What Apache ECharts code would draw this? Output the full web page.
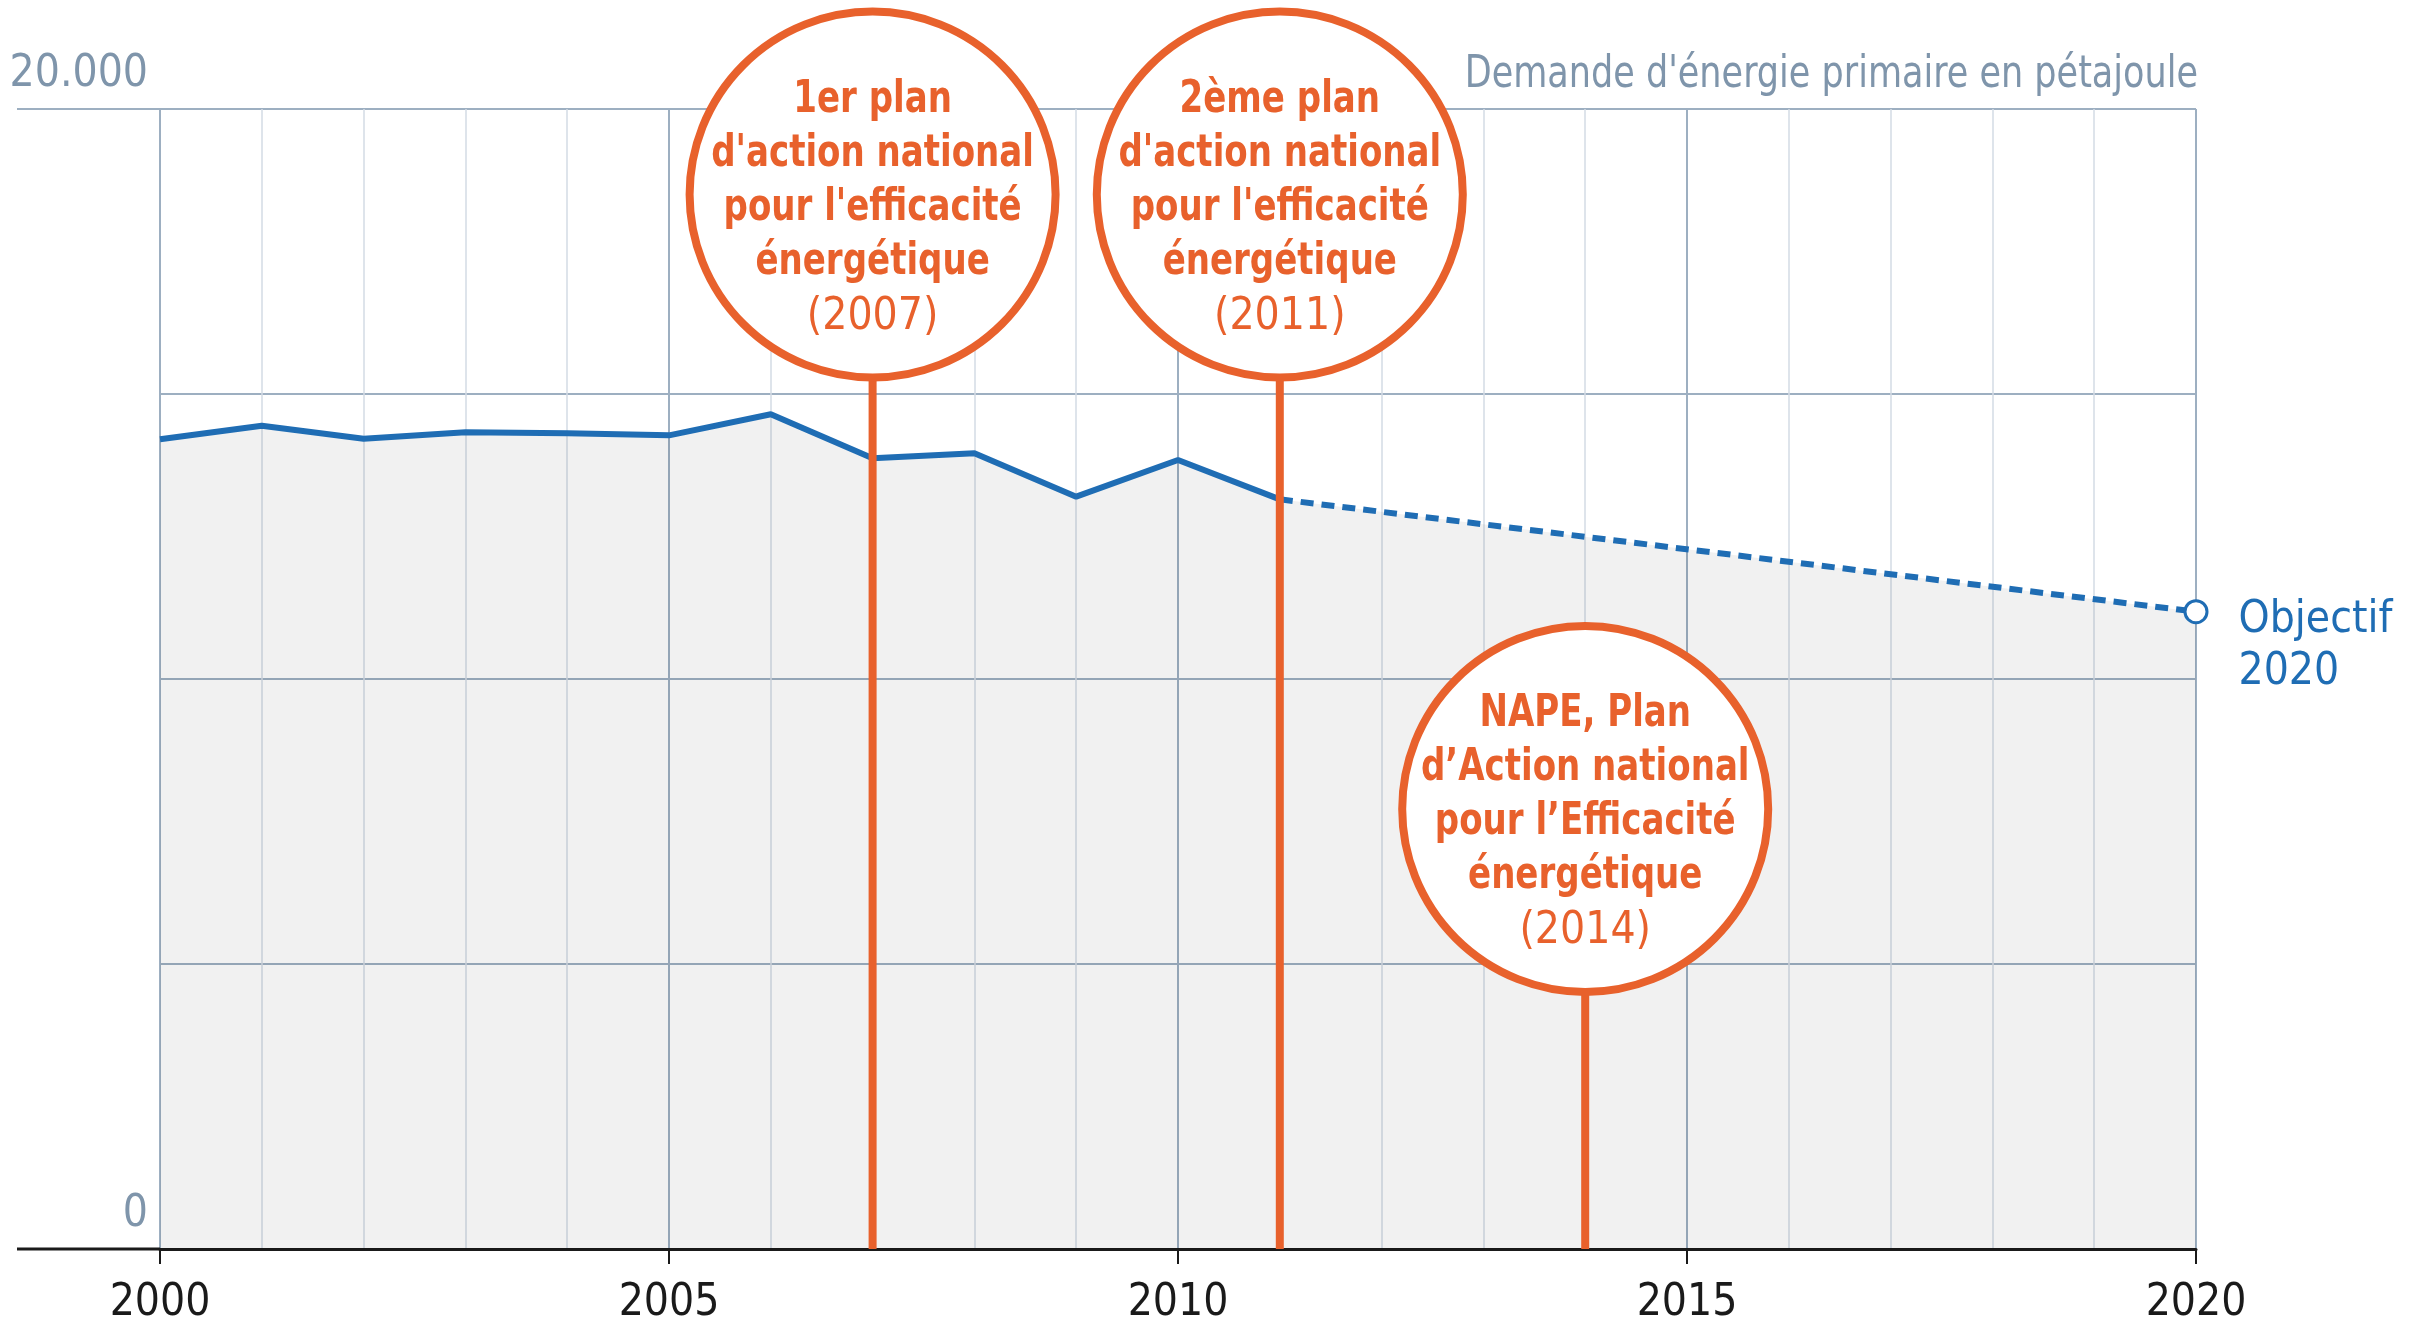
<!DOCTYPE html>
<html>
<head>
<meta charset="utf-8">
<script src="https://cdn.jsdelivr.net/npm/echarts@6/dist/echarts.min.js"></script>
<style>
  html, body { margin: 0; padding: 0; background: #fff; }
  #chart { width: 2416px; height: 1322px; }
</style>
</head>
<body>
<div id="chart"></div>
<script>
// données (PJ)
var years = [2000, 2001, 2002, 2003, 2004, 2005, 2006, 2007, 2008, 2009, 2010, 2011];
var demand = [14205, 14444, 14216, 14328, 14310, 14275, 14644, 13872, 13960, 13199, 13842, 13152];
var targetYear = 2020;
var targetValue = 11181;
var planYears = [2007, 2011, 2014];
var planTitles = [
  ['1er plan', "d'action national", "pour l'efficacité", 'énergétique'],
  ['2ème plan', "d'action national", "pour l'efficacité", 'énergétique'],
  ['NAPE, Plan', 'd\u2019Action national', 'pour l\u2019Efficacité', 'énergétique']
];
var yTicks = [0, 5000, 10000, 15000, 20000];

var FONT = '"DejaVu Sans Condensed", "Liberation Sans Narrow", "Noto Sans", sans-serif';
var orange = '#e8612c';
var blue = '#1f6db4';
var gridCol = '#9dafc1';
var labelCol = '#7f95ab';

// position verticale des bulles (en valeur d'axe)
var bubbleCenter = { 2007: 18500, 2011: 18500, 2014: 7720 };
var bubbleR = 183;

var chart = echarts.init(document.getElementById('chart'));

var solidData = years.map(function (y, i) { return [y, demand[i]]; });
var lastIdx = years.length - 1;
var projData = [
  { value: [years[lastIdx], demand[lastIdx]], symbol: 'none' },
  { value: [targetYear, targetValue] }
];

var option = {
  animation: false,
  backgroundColor: '#fff',
  textStyle: { fontFamily: FONT },
  grid: { left: 160, right: 220, top: 109, bottom: 73, outerBoundsMode: 'none', containLabel: false },
  xAxis: {
    type: 'value',
    min: 2000,
    max: 2020,
    interval: 5,
    axisLine: { show: true, lineStyle: { color: '#1a1a1a', width: 3 } },
    axisTick: { show: true, length: 15, lineStyle: { color: '#1a1a1a', width: 2 } },
    axisLabel: {
      color: '#1a1a1a', fontSize: 44, fontFamily: FONT, margin: 33,
      formatter: function (v) { return String(v); }
    },
    splitLine: { show: true, lineStyle: { color: gridCol, width: 2 } },
    minorTick: { show: false, splitNumber: 5 },
    minorSplitLine: { show: true, lineStyle: { color: '#d4dce5', width: 1.5 } }
  },
  yAxis: {
    type: 'value',
    min: 0,
    max: 20000,
    interval: 5000,
    axisLine: { show: false },
    axisTick: { show: false },
    axisLabel: {
      color: labelCol, fontSize: 44, fontFamily: FONT, margin: 12,
      verticalAlign: 'bottom', padding: [0, 0, 12, 0],
      formatter: function (v) {
        if (v === yTicks[0]) return '0';
        if (v === yTicks[yTicks.length - 1]) return '20.000';
        return '';
      }
    },
    splitLine: { show: true, lineStyle: { color: gridCol, width: 2 } }
  },
  series: [
    {
      type: 'line',
      data: solidData,
      showSymbol: false,
      lineStyle: { color: blue, width: 6 },
      areaStyle: { color: 'rgba(0,0,0,0.055)', opacity: 1 },
      z: 2
    },
    {
      type: 'line',
      data: projData,
      symbol: 'circle',
      symbolSize: 22,
      itemStyle: { color: '#fff', borderColor: blue, borderWidth: 3 },
      lineStyle: { color: blue, width: 6, type: [13, 8] },
      areaStyle: { color: 'rgba(0,0,0,0.055)', opacity: 1 },
      label: {
        show: true,
        position: 'right',
        distance: 30,
        offset: [0, 35],
        formatter: function (p) { return p.dataIndex === 1 ? 'Objectif\n' + targetYear : ''; },
        color: blue,
        fontSize: 44,
        lineHeight: 52,
        fontFamily: FONT
      },
      z: 2
    },
    {
      type: 'custom',
      data: planYears.map(function (y) { return [y, bubbleCenter[y]]; }),
      z: 10,
      clip: false,
      renderItem: function (params, api) {
        var year = api.value(0);
        var c = api.coord([year, api.value(1)]);
        var base = api.coord([year, 0]);
        return {
          type: 'group',
          children: [
            {
              type: 'line',
              shape: { x1: c[0], y1: c[1] + bubbleR, x2: c[0], y2: base[1] },
              style: { stroke: orange, lineWidth: 8 }
            },
            {
              type: 'circle',
              shape: { cx: c[0], cy: c[1], r: bubbleR },
              style: { fill: '#fff', stroke: orange, lineWidth: 8 }
            },
            {
              type: 'text',
              x: c[0],
              y: c[1] - 13,
              scaleX: 0.86,
              style: {
                text: planTitles[params.dataIndex].join('\n'),
                align: 'center',
                verticalAlign: 'middle',
                fontFamily: FONT,
                fontSize: 44,
                fontWeight: 'bold',
                lineHeight: 54,
                fill: orange
              }
            },
            {
              type: 'text',
              x: c[0],
              y: c[1] + 123,
              style: {
                text: '(' + year + ')',
                align: 'center',
                verticalAlign: 'middle',
                fontFamily: FONT,
                fontSize: 44,
                fill: orange
              }
            }
          ]
        };
      }
    }
  ]
};

chart.setOption(option);

// titre et prolongement à gauche de la ligne du haut et de l'axe
var pTop = chart.convertToPixel({ gridIndex: 0 }, [2000, 20000]);
var pBot = chart.convertToPixel({ gridIndex: 0 }, [2000, 0]);
var pRight = chart.convertToPixel({ gridIndex: 0 }, [2020, 20000]);
chart.setOption({
  graphic: [
    { type: 'line', shape: { x1: 17, y1: pTop[1], x2: pTop[0], y2: pTop[1] }, style: { stroke: gridCol, lineWidth: 2 } },
    { type: 'line', shape: { x1: 17, y1: pBot[1], x2: pBot[0], y2: pBot[1] }, style: { stroke: '#1a1a1a', lineWidth: 3 } },
    {
      type: 'text', x: pRight[0] + 2, y: pRight[1] - 33, scaleX: 0.885,
      style: {
        text: "Demande d'énergie primaire en pétajoule",
        align: 'right', verticalAlign: 'middle',
        fontFamily: FONT, fontSize: 44, fill: labelCol
      }
    }
  ]
});
</script>
</body>
</html>
